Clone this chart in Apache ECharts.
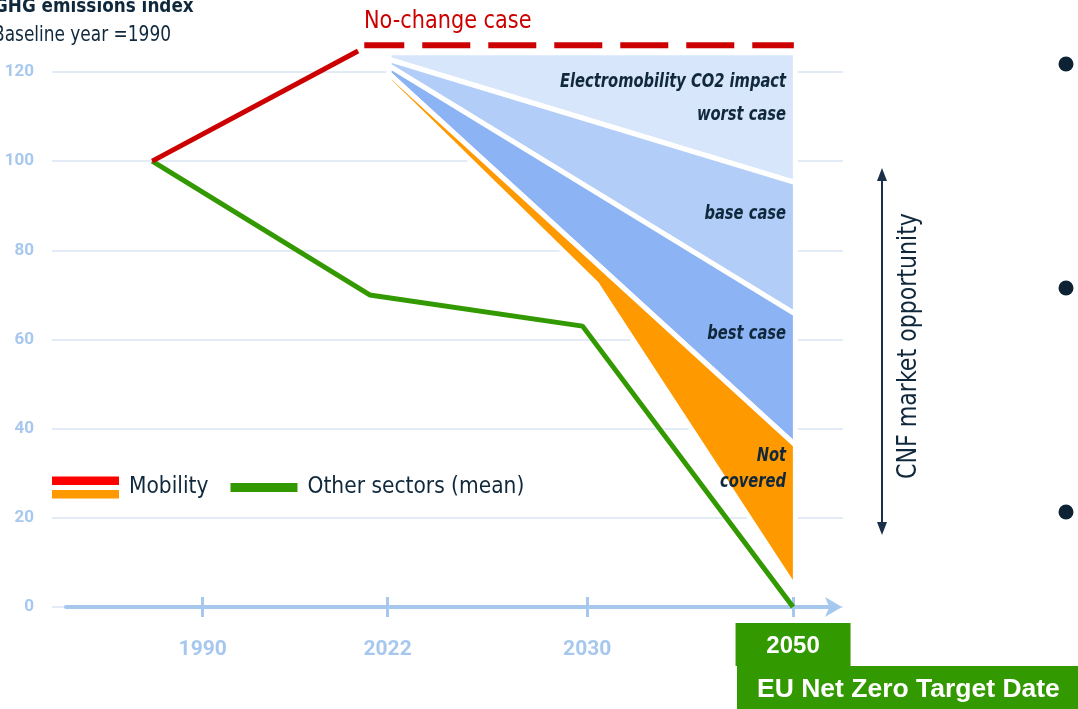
<!DOCTYPE html>
<html>
<head>
<meta charset="utf-8">
<script src="https://cdn.jsdelivr.net/npm/echarts@6/dist/echarts.min.js"></script>
<style>
html,body{margin:0;padding:0;background:#fff;}
#chart{width:1078px;height:709px;}
</style>
</head>
<body>
<div id="chart"></div>
<script>
// ---------- data ----------
const tickYears = ['1990', '2022', '2030', '2050'];
const tickPos = [17.6, 41.4, 67.1, 93.6];          // position of each year on the timeline axis (0-99)

const mobilityX = [11.1, 37.6];
const mobilityY = [100, 124.7];
const noChangeX = [38.4, 93.7];
const noChangeY = [126, 126];
const otherX = [11.1, 39.1, 66.5, 93.6];
const otherY = [100, 70, 63, 0];

const worstBand = [[41.6, 124.3], [93.9, 124.3], [93.9, 95.2], [41.6, 122.8]];
const baseBand = [[41.6, 122.8], [93.9, 95.2], [93.9, 65.7], [41.6, 121.4]];
const bestBand = [[41.6, 121.4], [93.9, 65.7], [93.9, 36.3], [41.6, 119.6]];
const notCoveredBand = [[41.6, 119.6], [93.9, 36.3], [93.9, 4.2], [68.3, 72.5], [41.6, 118.0]];

const bandLabelText = ['Electromobility CO2 impact', 'worst case', 'base case', 'best case', 'Not', 'covered'];
const bandLabelX = [92.7, 92.7, 92.7, 92.7, 92.7, 92.7];
const bandLabelY = [117.8, 110.3, 88.1, 61.2, 33.8, 28.0];

// ---------- styles ----------
const COND = '"DejaVu Sans Condensed", "DejaVu Sans", sans-serif';
const SANS = '"Liberation Sans", Arial, sans-serif';
const DIGITS = 'Roboto, "Liberation Sans", sans-serif';
const NAVY = '#10283c';
const AXIS_BLUE = '#a7c8ee';
const bands = [worstBand, baseBand, bestBand, notCoveredBand];
const bandColors = ['#d7e6fb', '#b1cdf8', '#8cb4f5', '#ff9900'];

const zip = (xs, ys) => xs.map((x, i) => [x, ys[i]]);

const chart = echarts.init(document.getElementById('chart'));
const option = {
  backgroundColor: '#fff',
  animation: false,
  grid: [
    { left: 52, right: 235, top: 72, bottom: 102 },
    { left: 66, right: 243, top: 72, bottom: 102 }
  ],
  xAxis: [
    { gridIndex: 0, type: 'value', min: 0, max: 1, show: false },
    {
      gridIndex: 1, type: 'value', min: 0, max: 99, position: 'bottom',
      splitLine: { show: false },
      axisLine: { show: true, lineStyle: { color: AXIS_BLUE, width: 4 }, symbol: ['none', 'arrow'], symbolSize: [15, 17], symbolOffset: [0, 7] },
      axisTick: { show: true, inside: false, length: 10, lineStyle: { color: AXIS_BLUE, width: 3 }, customValues: tickPos },
      axisLabel: {
        show: true, margin: 32, customValues: tickPos.slice(0, 3),
        formatter: v => tickYears[tickPos.indexOf(v)],
        color: AXIS_BLUE, fontSize: 21, fontWeight: 'bold', fontFamily: DIGITS
      }
    },
    {
      gridIndex: 1, type: 'value', min: 0, max: 99, position: 'bottom',
      splitLine: { show: false },
      axisLine: { show: false },
      axisTick: { show: true, inside: true, length: 10, lineStyle: { color: AXIS_BLUE, width: 3 }, customValues: tickPos },
      axisLabel: {
        show: true, inside: false, margin: 18, customValues: tickPos.slice(3),
        formatter: v => '{b|' + tickYears[tickPos.indexOf(v)] + '}',
        rich: {
          b: { backgroundColor: '#339900', color: '#fff', width: 115, height: 39, lineHeight: 39, padding: [4, 0, 0, 0], align: 'center',
               fontSize: 24, fontWeight: 'bold', fontFamily: SANS }
        }
      }
    }
  ],
  yAxis: [
    {
      gridIndex: 0, type: 'value', min: 0, max: 120, interval: 20,
      axisLine: { show: false }, axisTick: { show: false },
      splitLine: { show: true, lineStyle: { color: '#e2ebf6', width: 2 } },
      axisLabel: { margin: 18, color: AXIS_BLUE, fontSize: 17, fontWeight: 'bold', fontFamily: DIGITS }
    },
    { gridIndex: 1, type: 'value', min: 0, max: 120, interval: 20, show: false }
  ],
  legend: {
    left: 52, top: 476, padding: 0, itemWidth: 67, itemHeight: 22, itemGap: 22,
    selectedMode: false,
    textStyle: { fontSize: 22.5, color: NAVY, fontFamily: COND, padding: [0, 0, 0, 5] },
    data: [
      { name: 'Mobility', icon: 'rect', itemStyle: { color: { type: 'linear', x: 0, y: 0, x2: 0, y2: 1, colorStops: [
        { offset: 0, color: '#ff0000' }, { offset: 0.37, color: '#ff0000' }, { offset: 0.37, color: 'rgba(255,255,255,0)' },
        { offset: 0.63, color: 'rgba(255,255,255,0)' }, { offset: 0.63, color: '#ff9900' }, { offset: 1, color: '#ff9900' } ] } } },
      { name: 'Other sectors (mean)', icon: 'rect', itemStyle: { color: { type: 'linear', x: 0, y: 0, x2: 0, y2: 1, colorStops: [
        { offset: 0, color: 'rgba(255,255,255,0)' }, { offset: 0.3, color: 'rgba(255,255,255,0)' }, { offset: 0.3, color: '#339900' },
        { offset: 0.7, color: '#339900' }, { offset: 0.7, color: 'rgba(255,255,255,0)' }, { offset: 1, color: 'rgba(255,255,255,0)' } ] } } }
    ]
  },
  series: [
    {
      name: 'bands', type: 'custom', xAxisIndex: 1, yAxisIndex: 1, clip: false, silent: true,
      data: bands.map((b, i) => [b[0][0], b[0][1], i]),
      encode: { x: 0, y: 1 },
      renderItem: (params, api) => {
        const i = params.dataIndex;
        const pts = bands[i].map(p => api.coord(p));
        return { type: 'polygon', shape: { points: pts }, style: { fill: bandColors[i], stroke: '#fff', lineWidth: 5 } };
      },
      z: 2
    },
    {
      name: 'bandLabels', type: 'custom', xAxisIndex: 1, yAxisIndex: 1, clip: false, silent: true,
      data: bandLabelX.map((x, i) => [x, bandLabelY[i]]),
      encode: { x: 0, y: 1 },
      renderItem: (params, api) => {
        const pt = api.coord([api.value(0), api.value(1)]);
        return { type: 'text', x: pt[0], y: pt[1], scaleX: 0.86,
          style: { text: bandLabelText[params.dataIndex], x: 0, y: 0, align: 'right', verticalAlign: 'middle',
          fill: NAVY, font: 'italic bold 19px ' + COND } };
      },
      z: 5
    },
    {
      name: 'Other sectors (mean)', type: 'line', xAxisIndex: 1, yAxisIndex: 1, clip: false,
      data: zip(otherX, otherY), symbol: 'none',
      lineStyle: { color: '#339900', width: 5 }, itemStyle: { color: '#339900' }, z: 4
    },
    {
      name: 'Mobility', type: 'line', xAxisIndex: 1, yAxisIndex: 1, clip: false,
      data: zip(mobilityX, mobilityY), symbol: 'none',
      lineStyle: { color: '#cc0000', width: 5 }, itemStyle: { color: '#cc0000' }, z: 4
    },
    {
      name: 'No-change case', type: 'line', xAxisIndex: 1, yAxisIndex: 1, clip: false,
      data: zip(noChangeX, noChangeY), symbol: 'none',
      lineStyle: { color: '#cc0000', width: 6, type: [48, 18], dashOffset: 8 }, z: 4
    }
  ],
  graphic: [
    { type: 'text', x: -6, y: 7, scaleX: 0.96, style: { text: 'GHG emissions index', font: 'bold 19.5px ' + COND, fill: NAVY, verticalAlign: 'middle' } },
    { type: 'text', x: -7, y: 36, scaleX: 0.92, style: { text: 'Baseline year =1990', font: '20.5px ' + COND, fill: NAVY, verticalAlign: 'middle' } },
    { type: 'text', x: 364, y: 22, scaleX: 0.965, style: { text: 'No-change case', font: '24px ' + COND, fill: '#cc0000', verticalAlign: 'middle' } },
    { type: 'line', shape: { x1: 882, y1: 176, x2: 882, y2: 528 }, style: { stroke: '#1a3048', lineWidth: 2 } },
    { type: 'polygon', shape: { points: [[882, 168], [877, 181], [887, 181]] }, style: { fill: '#1a3048' } },
    { type: 'polygon', shape: { points: [[882, 535], [877, 522], [887, 522]] }, style: { fill: '#1a3048' } },
    { type: 'text', x: 909, y: 346, rotation: Math.PI / 2, scaleX: 0.91, style: { text: 'CNF market opportunity', font: '27px ' + COND, fill: NAVY, align: 'center', verticalAlign: 'middle' } },
    { type: 'circle', shape: { cx: 1066, cy: 64, r: 7.5 }, style: { fill: '#0d2233' } },
    { type: 'circle', shape: { cx: 1066, cy: 288, r: 7.5 }, style: { fill: '#0d2233' } },
    { type: 'circle', shape: { cx: 1066, cy: 512, r: 7.5 }, style: { fill: '#0d2233' } },
    { type: 'rect', shape: { x: 737, y: 666, width: 341, height: 43 }, style: { fill: '#339900' } },
    { type: 'text', x: 757, y: 690, style: { text: 'EU Net Zero Target Date', font: 'bold 26.5px ' + SANS, fill: '#fff', verticalAlign: 'middle' } }
  ]
};
chart.setOption(option);
</script>
</body>
</html>
